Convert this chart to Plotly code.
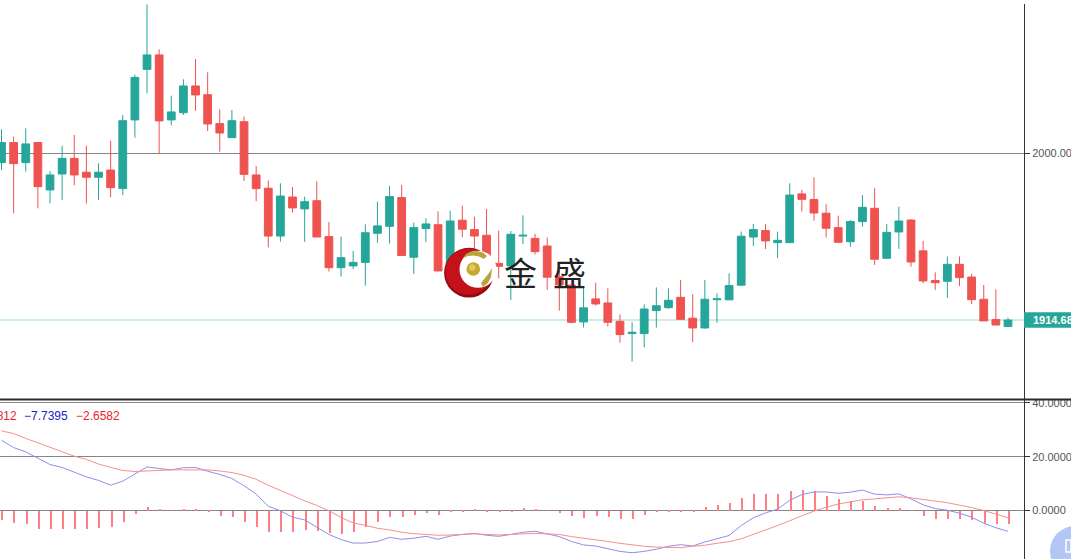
import plotly.graph_objects as go

W, H = 1071, 559

open_ = [1995.3,2005.6,1995.3,2005.6,1981.3,1989.5,1997.5,1990.4,1987.8,1991.5,1982.0,2017.2,2043.1,2050.5,2017.2,2020.9,2034.6,2030.1,2015.3,2008.1,
         2016.3,1989.0,1982.2,1957.7,1977.7,1971.6,1975.8,1957.4,1941.5,1942.4,1944.2,1959.1,1962.7,1977.4,1946.8,1961.5,1963.5,1942.0,1965.8,1961.0,
         1958.1,1943.7,1942.4,1957.7,1956.5,1952.6,1936.9,1932.6,1913.7,1925.5,1923.4,1914.0,1907.7,1907.7,1919.5,1921.0,1926.3,1915.6,1910.6,1925.1,
         1925.0,1932.5,1957.2,1960.5,1954.3,1954.3,1979.3,1976.4,1969.4,1962.0,1954.8,1965.1,1971.9,1946.3,1959.8,1965.9,1950.1,1934.9,1934.5,1943.2,
         1936.7,1925.3,1914.9,1911.3]
high = [2012.4,2008.6,2012.9,2005.6,1991.0,2004.0,2009.5,2004.0,1995.0,2006.6,2019.7,2040.4,2076.4,2053.4,2029.6,2038.0,2048.4,2041.6,2022.6,2022.3,
        2018.9,1993.6,1986.1,1984.7,1982.8,1977.9,1985.7,1964.9,1957.4,1950.1,1963.7,1975.3,1983.4,1983.9,1964.6,1966.8,1970.4,1970.7,1973.3,1967.6,
        1971.6,1960.5,1960.3,1968.3,1958.8,1956.9,1940.3,1935.2,1931.8,1933.8,1930.9,1917.6,1913.5,1922.7,1931.4,1930.9,1935.2,1927.9,1935.2,1928.4,
        1938.6,1960.0,1963.9,1963.9,1960.0,1984.7,1981.3,1987.8,1974.0,1968.2,1965.9,1978.7,1982.2,1963.9,1972.8,1966.3,1955.2,1939.1,1947.2,1947.2,
        1938.3,1932.6,1930.4,1915.9]
low = [1991.5,1969.3,1990.7,1971.9,1974.5,1976.2,1983.7,1974.3,1976.2,1977.5,1978.7,2008.1,2030.8,2000.1,2014.4,2019.7,2021.9,2011.5,2000.9,2007.9,
       1985.9,1975.5,1951.9,1954.8,1969.7,1954.7,1957.2,1939.5,1936.9,1940.8,1932.3,1954.2,1953.8,1947.7,1938.3,1954.7,1939.8,1941.7,1957.1,1950.6,
       1940.3,1936.0,1925.0,1953.6,1948.2,1930.1,1919.5,1913.0,1910.8,1922.0,1911.3,1903.1,1893.4,1900.7,1910.8,1920.3,1915.0,1903.3,1910.3,1913.2,
       1925.0,1932.5,1952.6,1951.1,1946.3,1954.3,1970.2,1965.6,1956.9,1954.0,1952.1,1962.5,1942.9,1946.1,1951.1,1942.0,1933.5,1930.1,1926.0,1932.0,
       1922.9,1914.2,1912.1,1911.3]
close = [2005.6,1994.8,2004.9,1983.0,1989.0,1997.5,1989.0,1987.8,1990.4,1982.5,2016.8,2039.0,2050.5,2016.7,2021.3,2034.6,2030.0,2015.1,2010.5,2016.8,
         1989.3,1982.0,1957.7,1978.2,1972.1,1975.3,1957.2,1941.5,1946.6,1944.2,1959.4,1962.9,1977.9,1947.7,1962.0,1963.9,1939.8,1965.4,1961.2,1957.7,
         1943.9,1942.2,1958.6,1958.1,1949.7,1936.6,1932.6,1913.5,1920.9,1922.9,1913.5,1907.2,1908.4,1920.3,1922.0,1924.8,1915.0,1910.6,1925.3,1925.5,
         1932.3,1957.6,1961.0,1955.2,1955.5,1978.7,1976.5,1969.5,1961.7,1954.5,1965.1,1972.4,1945.8,1959.6,1965.4,1944.4,1934.7,1933.8,1943.2,1936.4,
         1925.1,1914.2,1912.1,1914.68]

dif = [26.1,23.4,21.8,19.3,17.1,16.0,14.1,12.5,11.2,9.4,10.9,13.4,16.2,15.6,15.1,15.9,16.0,14.6,13.4,11.9,
       9.2,6.1,1.6,-0.1,-2.5,-3.5,-6.3,-8.9,-10.8,-12.1,-12.1,-11.5,-10.0,-10.7,-10.3,-9.6,-10.7,-9.5,-8.9,-8.5,
       -9.2,-9.6,-8.9,-8.1,-7.7,-8.7,-9.7,-11.5,-12.8,-13.2,-14.2,-15.2,-15.7,-15.2,-14.4,-13.3,-12.7,-13.2,-11.7,-10.4,
       -9.3,-5.6,-2.7,-0.9,0.5,3.8,5.9,6.9,6.9,6.4,6.8,7.6,6.1,5.8,6.2,4.3,2.1,0.7,0.1,-1.0,
       -2.5,-4.7,-6.4,-7.7395]
dea = [29.6,28.6,26.8,25.2,23.4,21.8,20.2,19.0,17.3,16.0,14.9,14.5,14.7,15.1,15.1,15.1,15.2,15.1,14.7,14.1,
       13.1,11.6,9.4,7.4,5.3,3.6,1.9,-0.1,-2.6,-4.6,-5.5,-6.6,-7.2,-8.1,-8.6,-9.0,-9.2,-9.1,-8.9,-8.7,
       -8.9,-9.1,-8.9,-8.6,-8.5,-8.7,-8.9,-9.7,-10.3,-10.7,-11.5,-12.2,-12.8,-13.3,-13.6,-13.8,-13.8,-13.3,-12.9,-12.2,
       -11.6,-10.5,-8.9,-7.3,-5.6,-3.8,-2.0,-0.2,1.2,2.4,3.2,4.0,4.3,4.8,5.1,4.7,4.2,3.5,2.9,2.1,
       1.1,0.0,-1.2,-2.6582]
hist = [-3.6,-4.8,-5.2,-6.7,-6.9,-6.7,-6.7,-6.7,-6.4,-6.2,-4.2,-1.2,1.4,0.5,-0.1,0.5,0.5,-0.7,-2.0,-2.5,
        -4.2,-6.1,-7.9,-7.9,-7.9,-7.3,-7.7,-8.2,-8.6,-7.9,-6.0,-4.4,-2.3,-2.5,-1.5,-0.8,-1.5,-0.4,-0.3,0.4,
        -0.2,-0.3,-0.2,0.9,0.6,-0.1,-0.8,-2.2,-2.7,-2.0,-2.5,-3.0,-3.0,-1.8,-0.7,-0.2,-0.2,-0.2,1.4,1.9,
        2.7,4.7,6.3,6.3,6.3,7.3,7.8,7.1,5.5,4.1,3.6,3.6,1.5,0.9,1.0,-0.1,-1.9,-3.0,-3.0,-3.0,
        -3.5,-4.8,-5.2,-5.0812]

indices = list(range(len(close)))
price_ticks = [2000]
price_labels = ["2000.00"]
macd_ticks = [0, 20, 40]
macd_labels = ["0.0000", "20.0000", "40.0000"]
last_price = "1914.68"
macd_legend = ["\u22125.0812", "\u22127.7395", "\u22122.6582"]
logo_words = ["金", "盛"]

UP, DOWN = "#26a69a", "#ef5350"
GRID, AXIS, TICK = "#858585", "#333333", "#555555"
FONT = "Liberation Sans"


def px(x):
    return x / W


def py(y):
    return 1 - y / H


def circle(cx, cy, r, color):
    return dict(type="circle", xref="paper", yref="paper", x0=px(cx - r), x1=px(cx + r),
                y0=py(cy + r), y1=py(cy - r), fillcolor=color, line_width=0, layer="above")


def path(points, color):
    d = "M" + " L".join(f"{px(a):.5f},{py(b):.5f}" for a, b in points) + " Z"
    return dict(type="path", xref="paper", yref="paper", path=d, fillcolor=color, line_width=0, layer="above")


fig = go.Figure()
fig.add_trace(go.Candlestick(
    x=indices, open=open_, high=high, low=low, close=close, xaxis="x", yaxis="y",
    increasing=dict(line=dict(color=UP, width=1), fillcolor=UP),
    decreasing=dict(line=dict(color=DOWN, width=1), fillcolor=DOWN),
    whiskerwidth=0, hoverinfo="skip", showlegend=False))
fig.add_trace(go.Bar(x=indices, y=hist, xaxis="x2", yaxis="y2", width=0.085, offset=0.03,
                     marker=dict(color="#ff7f86", line_width=0), hoverinfo="skip", showlegend=False))
fig.add_trace(go.Scatter(x=indices, y=dif, xaxis="x2", yaxis="y2", mode="lines",
                         line=dict(color="#8f8fe8", width=1), hoverinfo="skip", showlegend=False))
fig.add_trace(go.Scatter(x=indices, y=dea, xaxis="x2", yaxis="y2", mode="lines",
                         line=dict(color="#f58f8f", width=1), hoverinfo="skip", showlegend=False))

xdom = [0, 1024 / W]
xrange_ = [-0.124, 84.32]
xcommon = dict(domain=xdom, range=xrange_, showgrid=False, zeroline=False, showticklabels=False,
               ticks="", automargin=False, rangeslider=dict(visible=False))
ycommon = dict(side="right", showline=True, linecolor=AXIS, linewidth=1, ticks="outside", ticklen=5,
               tickcolor=AXIS, tickwidth=1, showgrid=True, gridcolor=GRID, gridwidth=1, zeroline=False,
               automargin=False, tickfont=dict(family=FONT, size=11, color=TICK))

shapes = [
    # last-price line and tag
    dict(type="line", xref="paper", yref="y", x0=0, x1=1024 / W, y0=float(last_price), y1=float(last_price),
         line=dict(color="#9ed8d2", width=1), layer="below"),
    dict(type="rect", xref="paper", yref="y", x0=1024 / W, x1=1, y0=float(last_price) - 4, y1=float(last_price) + 4,
         fillcolor=UP, line_width=0, layer="above"),
    # pane separator
    dict(type="line", xref="paper", yref="paper", x0=0, x1=1, y0=py(399.5), y1=py(399.5),
         line=dict(color="#2a2a2a", width=2), layer="above"),
    # the axis line starts just below the top edge
    dict(type="rect", xref="paper", yref="paper", x0=px(1020), x1=px(1028), y0=py(4), y1=py(0),
         fillcolor="#ffffff", line_width=0, layer="above"),
    # logo
    circle(469, 272.7, 24.9, "#8f0d12"),
    circle(468.5, 271.5, 23.2, "#c4111a"),
    circle(478, 269.3, 18.5, "#ffffff"),
    circle(473.3, 269, 6.8, "#c9a62e"),
    circle(472.3, 267.5, 3.2, "#e3c95e"),
    path([(463, 258), (466, 254), (471, 251.5), (477, 251), (483, 252.5), (487, 256), (484, 259), (479, 256.5),
          (473, 255.5), (468, 256)], "#b9a33c"),
    path([(483, 287), (488, 283), (491, 277), (492, 268), (489, 273), (485, 278), (481, 283)], "#b9a33c"),
    # round button
    circle(1075, 551, 25, "#b3c7f7"),
    dict(type="rect", xref="paper", yref="paper", x0=px(1066), x1=px(1071), y0=py(552), y1=py(540),
         fillcolor="rgba(255,255,255,0)", line=dict(color="#ffffff", width=1.5), layer="above"),
]

ann = [
    dict(xref="paper", yref="paper", x=px(1031), y=py(320), xanchor="left", yanchor="middle", text=last_price,
         showarrow=False, font=dict(family=FONT, size=11, color="#ffffff", weight="bold")),
    dict(xref="paper", yref="paper", x=px(520.5), y=py(271.5), xanchor="center", yanchor="middle", text=logo_words[0],
         showarrow=False, font=dict(family="Noto Sans CJK SC", size=33, color="#222222")),
    dict(xref="paper", yref="paper", x=px(569.5), y=py(271.5), xanchor="center", yanchor="middle", text=logo_words[1],
         showarrow=False, font=dict(family="Noto Sans CJK SC", size=33, color="#222222")),
    dict(xref="paper", yref="paper", x=px(19), y=py(416), xanchor="right", yanchor="middle", text=macd_legend[0],
         showarrow=False, font=dict(family=FONT, size=12, color="#e8222e")),
    dict(xref="paper", yref="paper", x=px(21.5), y=py(416), xanchor="left", yanchor="middle", text=macd_legend[1],
         showarrow=False, font=dict(family=FONT, size=12, color="#2222cc")),
    dict(xref="paper", yref="paper", x=px(73.5), y=py(416), xanchor="left", yanchor="middle", text=macd_legend[2],
         showarrow=False, font=dict(family=FONT, size=12, color="#e8222e")),
]

fig.update_layout(
    width=W, height=H, margin=dict(l=0, r=0, t=0, b=0, autoexpand=False), paper_bgcolor="#ffffff", plot_bgcolor="#ffffff",
    showlegend=False, boxgap=0.36, boxgroupgap=0, bargap=0,
    font=dict(family=FONT),
    xaxis=dict(anchor="y", **xcommon),
    xaxis2=dict(anchor="y2", **xcommon),
    yaxis=dict(anchor="x", domain=[160 / H, 1], range=[1874.2, 2078.64], tickvals=price_ticks,
               ticktext=price_labels, **ycommon),
    yaxis2=dict(anchor="x2", domain=[0, 159 / H], range=[-18.03, 41.08], tickvals=macd_ticks,
                ticktext=macd_labels, **ycommon),
    shapes=shapes, annotations=ann,
)

fig.write_html("out.html", config=dict(displayModeBar=False), post_script="document.body.style.margin='0';")
